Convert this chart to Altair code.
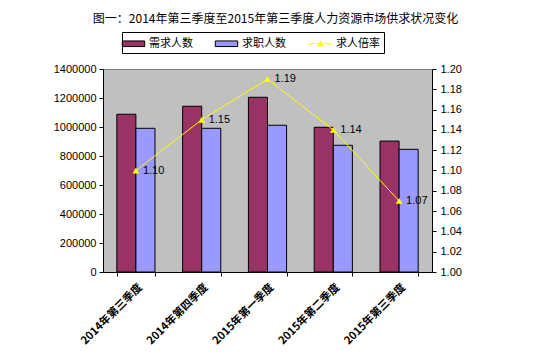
import altair as alt
import pandas as pd

title_text = "图一：2014年第三季度至2015年第三季度人力资源市场供求状况变化"
quarters = ["2014年第三季度", "2014年第四季度", "2015年第一季度", "2015年第二季度", "2015年第三季度"]
demand = [1088000, 1143000, 1205000, 998000, 903000]
supply = [991000, 991000, 1012000, 874000, 846000]
ratio = [1.10, 1.15, 1.19, 1.14, 1.07]
series = ["需求人数", "求职人数", "求人倍率"]
colors = ["#993366", "#9999FF", "#FFFF00"]
left_ticks = [0, 200000, 400000, 600000, 800000, 1000000, 1200000, 1400000]
right_ticks = [1.00, 1.02, 1.04, 1.06, 1.08, 1.10, 1.12, 1.14, 1.16, 1.18, 1.20]

bars_df = pd.DataFrame({
    "quarter": quarters * 2,
    "series": [series[0]] * len(quarters) + [series[1]] * len(quarters),
    "value": demand + supply,
})
ratio_df = pd.DataFrame({"quarter": quarters, "series": series[2], "ratio": ratio})
legend_df = pd.DataFrame({"series": series})

NUMFONT = "Liberation Sans"
CJK = "Noto Sans CJK SC"

x_enc = alt.X(
    "quarter:N", sort=quarters, title=None,
    scale=alt.Scale(domain=quarters, paddingInner=0.42, paddingOuter=0.21),
    axis=alt.Axis(labelAngle=-45, labelAlign="right", labelBaseline="top",
                  tickBand="extent", tickSize=4, labelPadding=5,
                  labelFont=CJK, labelFontSize=11, labelFontWeight="bold",
                  domainColor="black", tickColor="black", labelColor="black"),
)

color_scale = alt.Scale(domain=series, range=colors)
legend_props = dict(title=None, orient="none", legendX=19, legendY=-37,
                    direction="horizontal", strokeColor="black",
                    fillColor="white", padding=4, symbolSize=196,
                    labelOffset=8, columnPadding=20,
                    symbolStrokeWidth=1, labelFont=CJK, labelFontSize=11,
                    labelColor="black")

bars = alt.Chart(bars_df).mark_bar(stroke="black", strokeWidth=1).encode(
    x=x_enc,
    xOffset=alt.XOffset("series:N", scale=alt.Scale(domain=series[:2])),
    y=alt.Y("value:Q", title=None, scale=alt.Scale(domain=[0, 1400000]),
            axis=alt.Axis(orient="left", values=left_ticks, format="d", grid=False,
                          tickSize=4, labelPadding=3, labelFont=NUMFONT, labelFontSize=11,
                          domainColor="black", tickColor="black", labelColor="black")),
    color=alt.Color("series:N", scale=color_scale, legend=alt.Legend(**legend_props)),
)

rect_path = "M-1.6,-0.4H1.6V0.4H-1.6Z"
line_path = "M-1.7,0H1.7M0,-0.38L0.42,0.32L-0.42,0.32Z"

legend_layer = alt.Chart(legend_df).transform_filter("false").mark_point(filled=True).encode(
    color=alt.Color("series:N", scale=color_scale, legend=alt.Legend(**legend_props)),
    shape=alt.Shape("series:N", scale=alt.Scale(domain=series, range=[rect_path, rect_path, line_path]),
                    legend=alt.Legend(**legend_props)),
    stroke=alt.Stroke("series:N", scale=alt.Scale(domain=series, range=["black", "black", "#FFFF00"]),
                      legend=alt.Legend(**legend_props)),
)

y_right = alt.Y("ratio:Q", title=None, scale=alt.Scale(domain=[1.0, 1.2]),
                axis=alt.Axis(orient="right", values=right_ticks, format=".2f", grid=False,
                              tickSize=4, labelPadding=4, labelFont=NUMFONT, labelFontSize=11,
                              domainColor="black", tickColor="black", labelColor="black"))

line = alt.Chart(ratio_df).mark_line(color="#FFFF00", strokeWidth=1).encode(x=x_enc, y=y_right)
pts = alt.Chart(ratio_df).mark_point(shape="triangle-up", filled=True, color="#FFFF00",
                                     size=45, opacity=1).encode(x=x_enc, y=y_right)
labels = alt.Chart(ratio_df).mark_text(align="left", baseline="middle", dx=7, font=NUMFONT,
                                       fontSize=11, color="black").encode(
    x=x_enc, y=y_right, text=alt.Text("ratio:Q", format=".2f"))

ratio_layer = alt.layer(line, pts, labels)

chart = alt.layer(bars, legend_layer, ratio_layer).resolve_scale(y="independent").properties(
    width=329, height=203,
    autosize=alt.AutoSizeParams(type="none"),
    padding={"left": 95, "top": 61, "right": 114, "bottom": 77},
    title=alt.Title(title_text, anchor="middle", font=CJK, fontSize=12, fontWeight="normal",
                    color="black", offset=6, dx=8),
    background="white",
    view=alt.ViewBackground(fill="#C0C0C0", stroke="#808080"),
).configure_view(fill="#C0C0C0", stroke="#808080")

chart.save("out.html", embed_options={"renderer": "svg", "actions": False})
